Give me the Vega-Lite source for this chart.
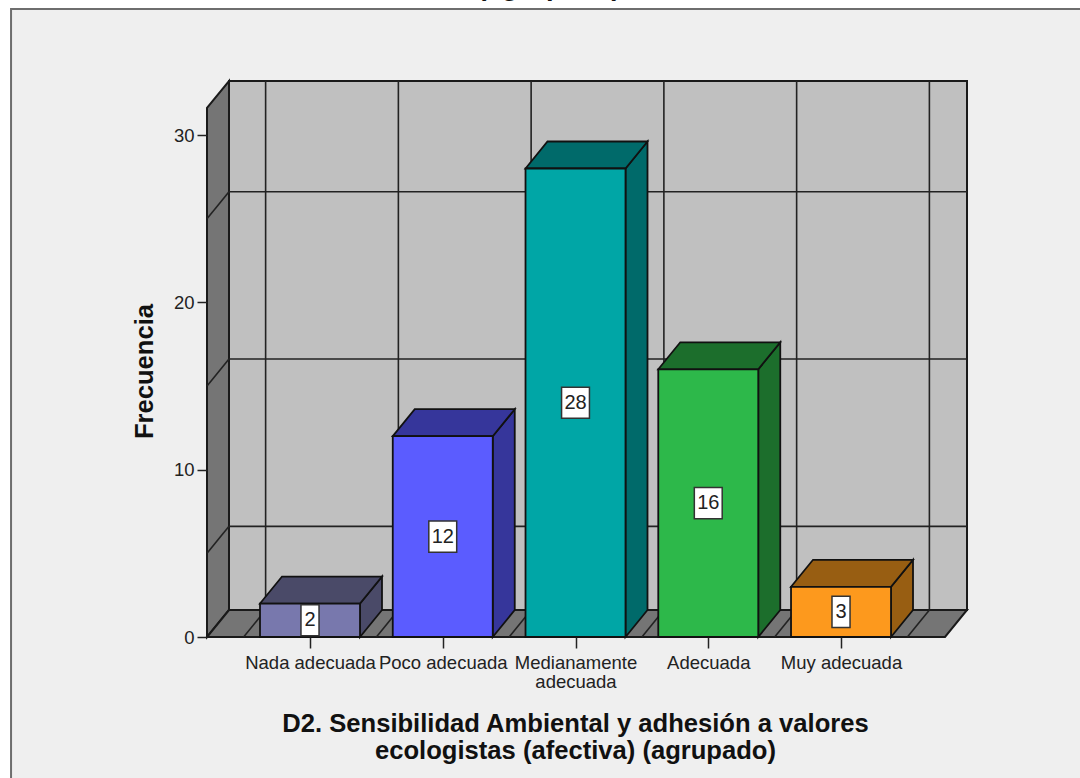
{
  "$schema": "https://vega.github.io/schema/vega-lite/v6.json",
  "width": 760,
  "height": 556,
  "autosize": {"type": "none"},
  "padding": {"left": 207, "top": 81, "right": 113, "bottom": 141},
  "background": "#ffffff",
  "config": {"view": {"stroke": null}},
  "datasets": {
    "barras": [
      {"categoria": "Nada adecuada", "orden": 1, "frecuencia": 2},
      {"categoria": "Poco adecuada", "orden": 2, "frecuencia": 12},
      {"categoria": "Medianamente adecuada", "orden": 3, "frecuencia": 28},
      {"categoria": "Adecuada", "orden": 4, "frecuencia": 16},
      {"categoria": "Muy adecuada", "orden": 5, "frecuencia": 3}
    ],
    "limites": [{"limite": 0.5}, {"limite": 1.5}, {"limite": 2.5}, {"limite": 3.5}, {"limite": 4.5}, {"limite": 5.5}],
    "niveles": [{"nivel": 5}, {"nivel": 15}, {"nivel": 25}],
    "pieza": [{"pieza": "escena"}]
  },
  "encoding": {
    "x": {
      "field": "px",
      "type": "quantitative",
      "scale": {"domain": [0.2241, 5.949], "nice": false, "zero": false},
      "axis": {
        "zindex": 1,
        "values": [1, 2, 3, 4, 5],
        "grid": false,
        "domain": false,
        "tickSize": 11,
        "tickWidth": 1.5,
        "tickColor": "#222222",
        "labelFont": "Liberation Sans",
        "labelFontSize": 18.5,
        "labelColor": "#222222",
        "labelPadding": 5,
        "labelLineHeight": 19,
        "labelOverlap": false,
        "labelFlush": false,
        "labelBound": false,
        "labelExpr": "datum.value == 1 ? 'Nada adecuada' : datum.value == 2 ? 'Poco adecuada' : datum.value == 3 ? ['Medianamente', 'adecuada'] : datum.value == 4 ? 'Adecuada' : 'Muy adecuada'",
        "title": ["D2. Sensibilidad Ambiental y adhesión a valores", "ecologistas (afectiva) (agrupado)"],
        "titleFont": "Liberation Sans",
        "titleFontSize": 25.6,
        "titleFontWeight": "bold",
        "titleColor": "#111111",
        "titleLineHeight": 27,
        "titleX": 368,
        "titleY": 74,
        "titleAlign": "center"
      }
    },
    "y": {
      "field": "py",
      "type": "quantitative",
      "stack": null,
      "scale": {"domain": [0, 33.23], "nice": false, "zero": false},
      "axis": {
        "zindex": 1,
        "values": [0, 10, 20, 30],
        "grid": false,
        "domain": false,
        "tickSize": 10,
        "tickWidth": 1.5,
        "tickColor": "#222222",
        "labelFont": "Liberation Sans",
        "labelFontSize": 18.5,
        "labelColor": "#222222",
        "labelPadding": 3,
        "title": "Frecuencia",
        "titleFont": "Liberation Sans",
        "titleFontSize": 25.6,
        "titleFontWeight": "bold",
        "titleColor": "#111111",
        "titleX": -63,
        "titleY": 290,
        "titleAngle": -90,
        "titleAlign": "center",
        "titleBaseline": "middle"
      }
    }
  },
  "layer": [
    {
      "data": {"name": "pieza"},
      "transform": [
        {"calculate": "-1.252", "as": "px"},
        {"calculate": "9", "as": "px2"},
        {"calculate": "37.53", "as": "py"},
        {"calculate": "-12", "as": "py2"}
      ],
      "mark": {"type": "rect", "fill": "#efefef", "stroke": "#6e6e6e", "strokeWidth": 2},
      "encoding": {"x2": {"field": "px2"}, "y2": {"field": "py2"}}
    },
    {
      "data": {"name": "pieza"},
      "transform": [
        {"calculate": "0.3898", "as": "px"},
        {"calculate": "5.949", "as": "px2"},
        {"calculate": "1.6136", "as": "py"},
        {"calculate": "33.23", "as": "py2"}
      ],
      "mark": {"type": "rect", "fill": "#c0c0c0", "stroke": "#1a1a1a", "strokeWidth": 2},
      "encoding": {"x2": {"field": "px2"}, "y2": {"field": "py2"}}
    },
    {
      "data": {"name": "pieza"},
      "transform": [
        {"calculate": "[0.2241, 0.3898]", "as": "px"},
        {"calculate": "[0, 1.6136]", "as": "py"},
        {"calculate": "[31.62, 33.23]", "as": "py2"},
        {"flatten": ["px", "py", "py2"]}
      ],
      "mark": {"type": "area", "fill": "#757575", "stroke": "#1a1a1a", "strokeWidth": 2},
      "encoding": {"y2": {"field": "py2"}}
    },
    {
      "data": {"name": "pieza"},
      "transform": [
        {"calculate": "[0.2241, 0.3898, 5.7833, 5.949]", "as": "px"},
        {"calculate": "[0, 0, 0, 1.6136]", "as": "py"},
        {"calculate": "[0, 1.6136, 1.6136, 1.6136]", "as": "py2"},
        {"flatten": ["px", "py", "py2"]}
      ],
      "mark": {"type": "area", "fill": "#757575", "stroke": "#1a1a1a", "strokeWidth": 2},
      "encoding": {"y2": {"field": "py2"}}
    },
    {
      "data": {"name": "limites"},
      "transform": [
        {"calculate": "datum.limite + 0.1657", "as": "px"},
        {"calculate": "datum.limite + 0.1657", "as": "px2"},
        {"calculate": "1.6136", "as": "py"},
        {"calculate": "33.23", "as": "py2"}
      ],
      "mark": {"type": "rule", "stroke": "#222222", "strokeWidth": 1.6},
      "encoding": {"x2": {"field": "px2"}, "y2": {"field": "py2"}}
    },
    {
      "data": {"name": "limites"},
      "transform": [
        {"calculate": "datum.limite", "as": "px"},
        {"calculate": "datum.limite + 0.1657", "as": "px2"},
        {"calculate": "0", "as": "py"},
        {"calculate": "1.6136", "as": "py2"}
      ],
      "mark": {"type": "rule", "stroke": "#222222", "strokeWidth": 1.6},
      "encoding": {"x2": {"field": "px2"}, "y2": {"field": "py2"}}
    },
    {
      "data": {"name": "niveles"},
      "transform": [
        {"calculate": "0.3898", "as": "px"},
        {"calculate": "5.949", "as": "px2"},
        {"calculate": "datum.nivel + 1.6136", "as": "py"},
        {"calculate": "datum.nivel + 1.6136", "as": "py2"}
      ],
      "mark": {"type": "rule", "stroke": "#222222", "strokeWidth": 1.6},
      "encoding": {"x2": {"field": "px2"}, "y2": {"field": "py2"}}
    },
    {
      "data": {"name": "niveles"},
      "transform": [
        {"calculate": "0.2241", "as": "px"},
        {"calculate": "0.3898", "as": "px2"},
        {"calculate": "datum.nivel", "as": "py"},
        {"calculate": "datum.nivel + 1.6136", "as": "py2"}
      ],
      "mark": {"type": "rule", "stroke": "#222222", "strokeWidth": 1.6},
      "encoding": {"x2": {"field": "px2"}, "y2": {"field": "py2"}}
    },
    {
      "data": {"name": "barras"},
      "transform": [
        {"calculate": "[datum.orden + 0.3766, datum.orden + 0.5423]", "as": "px"},
        {"calculate": "[0, 1.6136]", "as": "py"},
        {"calculate": "[datum.frecuencia, datum.frecuencia + 1.6136]", "as": "py2"},
        {"flatten": ["px", "py", "py2"]}
      ],
      "mark": {"type": "area", "stroke": "#111111", "strokeWidth": 1.8},
      "encoding": {
        "y2": {"field": "py2"},
        "detail": {"field": "categoria"},
        "fill": {
          "field": "categoria",
          "type": "nominal",
          "legend": null,
          "scale": {
            "domain": ["Nada adecuada", "Poco adecuada", "Medianamente adecuada", "Adecuada", "Muy adecuada"],
            "range": ["#4a4a68", "#36369b", "#006a6a", "#1c6e2c", "#985e12"]
          }
        }
      }
    },
    {
      "data": {"name": "barras"},
      "transform": [
        {"calculate": "[datum.orden - 0.3766, datum.orden - 0.2109, datum.orden + 0.3766, datum.orden + 0.5423]", "as": "px"},
        {"calculate": "[datum.frecuencia, datum.frecuencia, datum.frecuencia, datum.frecuencia + 1.6136]", "as": "py"},
        {"calculate": "[datum.frecuencia, datum.frecuencia + 1.6136, datum.frecuencia + 1.6136, datum.frecuencia + 1.6136]", "as": "py2"},
        {"flatten": ["px", "py", "py2"]}
      ],
      "mark": {"type": "area", "stroke": "#111111", "strokeWidth": 1.8},
      "encoding": {
        "y2": {"field": "py2"},
        "detail": {"field": "categoria"},
        "fill": {
          "field": "categoria",
          "type": "nominal",
          "legend": null,
          "scale": {
            "domain": ["Nada adecuada", "Poco adecuada", "Medianamente adecuada", "Adecuada", "Muy adecuada"],
            "range": ["#4a4a68", "#36369b", "#006a6a", "#1c6e2c", "#985e12"]
          }
        }
      }
    },
    {
      "data": {"name": "barras"},
      "transform": [
        {"calculate": "datum.orden - 0.3766", "as": "px"},
        {"calculate": "datum.orden + 0.3766", "as": "px2"},
        {"calculate": "datum.frecuencia", "as": "py"},
        {"calculate": "0", "as": "py2"}
      ],
      "mark": {"type": "rect", "stroke": "#111111", "strokeWidth": 1.8},
      "encoding": {
        "x2": {"field": "px2"},
        "y2": {"field": "py2"},
        "fill": {
          "field": "categoria",
          "type": "nominal",
          "legend": null,
          "scale": {
            "domain": ["Nada adecuada", "Poco adecuada", "Medianamente adecuada", "Adecuada", "Muy adecuada"],
            "range": ["#7878ad", "#5b5cff", "#00a6a6", "#2db84a", "#fd991d"]
          }
        }
      }
    },
    {
      "data": {"name": "barras"},
      "transform": [
        {"calculate": "datum.orden - (datum.frecuencia >= 10 ? 0.105 : 0.068)", "as": "px"},
        {"calculate": "datum.orden + (datum.frecuencia >= 10 ? 0.105 : 0.068)", "as": "px2"},
        {"calculate": "datum.frecuencia / 2 - 0.93", "as": "py"},
        {"calculate": "datum.frecuencia / 2 + 0.93", "as": "py2"}
      ],
      "mark": {"type": "rect", "fill": "#ffffff", "stroke": "#333333", "strokeWidth": 1.5},
      "encoding": {"x2": {"field": "px2"}, "y2": {"field": "py2"}}
    },
    {
      "data": {"name": "barras"},
      "transform": [
        {"calculate": "datum.orden", "as": "px"},
        {"calculate": "datum.frecuencia / 2", "as": "py"}
      ],
      "mark": {"type": "text", "font": "Liberation Sans", "fontSize": 20, "color": "#222222", "align": "center", "baseline": "middle"},
      "encoding": {"text": {"field": "frecuencia", "type": "quantitative"}}
    },
    {
      "data": {"name": "pieza"},
      "transform": [
        {"calculate": "2.8", "as": "px"},
        {"calculate": "38.35", "as": "py"}
      ],
      "mark": {"type": "text", "font": "Liberation Sans", "fontSize": 27.5, "fontWeight": "bold", "color": "#111111", "align": "center", "baseline": "alphabetic", "text": "(agrupado)"}
    }
  ],
  "resolve": {"scale": {"fill": "independent"}}
}
